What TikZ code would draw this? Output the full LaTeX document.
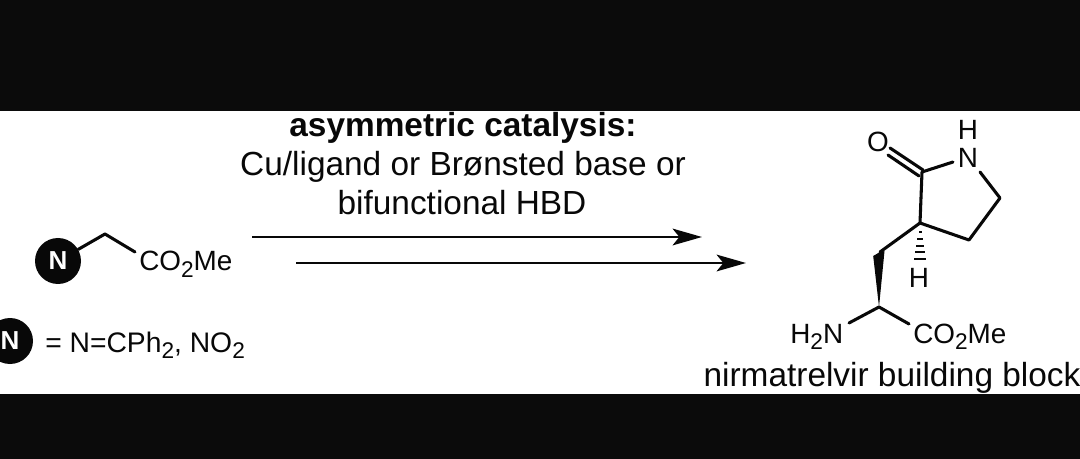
\documentclass[tikz,border=0pt]{standalone}
\usepackage{fontspec}
\setmainfont{Liberation Sans}
\usetikzlibrary{arrows.meta}
\definecolor{band}{HTML}{0B0B0B}
\definecolor{ink}{HTML}{080808}
\newcommand{\subtwo}{\raisebox{-0.22em}{\fontsize{17}{17}\selectfont 2}}
\tikzset{
  x=0.75pt,y=-0.75pt,
  bond/.style={draw=ink,line width=2.3pt,line cap=round,line join=round},
  rxn/.style={draw=ink,line width=2.1pt,-{Stealth[length=22pt,width=12.5pt,inset=5pt]}},
  cond/.style={font=\fontsize{25.05}{25.05}\selectfont,text=ink,inner sep=0pt,anchor=base},
  atom/.style={font=\fontsize{20.9}{20.9}\selectfont,text=ink,inner sep=0pt,anchor=base},
  ball/.style={circle,fill=ink,minimum size=34.5pt,inner sep=0pt,text=white,font=\fontsize{19.5}{19.5}\selectfont\bfseries},
}
\begin{document}
\begin{tikzpicture}
\useasboundingbox (0,0) rectangle (1080,459);
\fill[white] (0,0) rectangle (1080,459);
% conditions
\node[cond,font=\fontsize{25.05}{25.05}\selectfont\bfseries] (t1) at (463,136.5) {asymmetric catalysis:};
\node[cond] (t2) at (463,175.5) {Cu/ligand or Brønsted base or};
\node[cond] (t3) at (462,214.5) {bifunctional HBD};
% arrows
\coordinate (a1s) at (252,237); \coordinate (a1e) at (702,237);
\coordinate (a2s) at (296,263); \coordinate (a2e) at (746,263);
\draw[rxn] (a1s) -- (a1e);
\draw[rxn] (a2s) -- (a2e);
% substrate
\node[ball] (b1) at (58,261) {N};
\coordinate (s1) at (105,234);
\coordinate (s2) at (135,252);
\node[atom,anchor=base west] (ester1) at (139,271) {CO\subtwo Me};
\draw[bond] (b1) -- (s1) -- (s2);
% legend
\node[ball] (b2) at (10,341) {N};
\node[atom,anchor=base west,font=\fontsize{21.2}{21.2}\selectfont] (legend) at (45,352) {= N=CPh\subtwo, NO\subtwo};
% product
\coordinate (co) at (922,172);
\coordinate (c3) at (920,223);
\coordinate (c4) at (969,240);
\coordinate (c5) at (1000,198);
\coordinate (nb) at (980,172);
\coordinate (nc) at (953,162);
\coordinate (o1a) at (923,170); \coordinate (o1b) at (890,148);
\coordinate (o2a) at (919,176); \coordinate (o2b) at (888,155);
\coordinate (ch2) at (880,252);
\coordinate (cha) at (879,307);
\coordinate (nh2) at (849,323);
\coordinate (est) at (909,324);
\node[atom] (O) at (878,152) {O};
\node[atom] (H1) at (968,140) {H};
\node[atom] (N) at (968,168) {N};
\node[atom] (H2) at (919,287) {H};
\node[atom,anchor=base west] (amine) at (790,343) {H\subtwo N};
\node[atom,anchor=base west] (ester2) at (913,343) {CO\subtwo Me};
\node[cond] (name) at (892,386.5) {nirmatrelvir building block};
\draw[bond] (nc) -- (co) -- (c3) -- (c4) -- (c5) -- (nb);
\draw[bond] (o1a) -- (o1b);
\draw[bond] (o2a) -- (o2b);
\draw[bond] (c3) -- (ch2);
\draw[bond] (nh2) -- (cha) -- (est);
\fill[ink] (cha) -- (873.2,256) -- (ch2) -- (884.5,251) -- cycle;
\foreach \yy/\hw in {231/1.5,238/2.6,245/3.7,251/4.8,258/6}
  \fill[ink] (920-\hw,\yy) rectangle (920+\hw,\yy+2.4);
% black bands over the picture
\fill[band] (0,0) rectangle (1080,111);
\fill[band] (0,394) rectangle (1080,459);
\end{tikzpicture}
\end{document}
